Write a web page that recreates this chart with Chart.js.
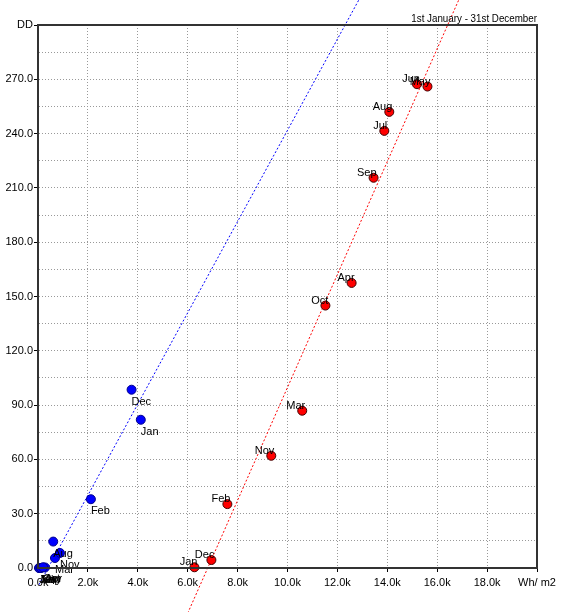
<!DOCTYPE html>
<html>
<head>
<meta charset="utf-8">
<script src="https://cdn.jsdelivr.net/npm/chart.js@4/dist/chart.umd.min.js"></script>
<style>
html,body{margin:0;padding:0;background:#fff;}
#c{display:block;}
</style>
</head>
<body>
<canvas id="c" width="566" height="612"></canvas>
<script>
const months = ['Jan','Feb','Mar','Apr','May','Jun','Jul','Aug','Sep','Oct','Nov','Dec'];
// red series (Wh/m2, DD)
const redX = [6270, 7590, 10590, 12570, 15610, 15190, 13880, 14080, 13450, 11520, 9350, 6950];
const redY = [0.4, 35.3, 86.9, 157.5, 266.0, 267.3, 241.5, 252.0, 215.6, 145.0, 62.0, 4.4];
// blue series (Wh/m2, DD)
const blueX = [4120, 2120, 680, 280, 100, 40, 60, 610, 120, 200, 880, 3750];
const blueY = [81.9, 38.0, 5.5, 0.3, 0, 0, 0, 14.6, 0, 0.4, 8.3, 98.5];
// trend lines (end points)
const redTrendX = [6000, 16900];
const redTrendY = [-25, 315];
const blueTrendX = [40, 12900];
const blueTrendY = [-9.2, 314.9];
// axis labels
const yTopLabel = 'DD';
const xEndLabel = 'Wh/ m2';
const titleText = '1st January - 31st December';

const FONT = '"Liberation Sans", Arial, sans-serif';
const FSIZE = 11;

const toPts = (xs, ys) => xs.map((x, i) => ({x: x, y: ys[i]}));

const framePlugin = {
  id: 'frame',
  afterDraw(chart) {
    const a = chart.chartArea, ctx = chart.ctx;
    ctx.save();
    ctx.strokeStyle = '#333';
    ctx.lineWidth = 2;
    ctx.strokeRect(a.left, a.top, a.right - a.left, a.bottom - a.top);
    ctx.fillStyle = '#000';
    ctx.font = FSIZE + 'px ' + FONT;
    ctx.textAlign = 'right';
    ctx.textBaseline = 'alphabetic';
    ctx.translate(a.right, 22);
    ctx.scale(0.89, 1);
    ctx.fillText(titleText, 0, 0);
    ctx.restore();
  }
};

const labelPlugin = {
  id: 'ptlabels',
  afterDatasetsDraw(chart) {
    const ctx = chart.ctx;
    ctx.save();
    ctx.font = FSIZE + 'px ' + FONT;
    ctx.fillStyle = '#000';
    chart.data.datasets.forEach((ds, di) => {
      if (!ds.monthLabels) return;
      const meta = chart.getDatasetMeta(di);
      meta.data.forEach((el, i) => {
        const t = ds.monthLabels[i];
        if (ds.labelSide === 'left') {
          ctx.textAlign = 'right';
          ctx.textBaseline = 'alphabetic';
          ctx.fillText(t, el.x + 3, el.y - 2);
        } else {
          ctx.textAlign = 'left';
          ctx.textBaseline = 'alphabetic';
          ctx.fillText(t, el.x, el.y + 15);
        }
      });
    });
    ctx.restore();
  }
};

new Chart(document.getElementById('c'), {
  type: 'scatter',
  data: {
    datasets: [
      {
        type: 'line', data: toPts(blueTrendX, blueTrendY), borderColor: '#0000ff',
        borderWidth: 1, borderDash: [2, 2], pointRadius: 0, clip: false, fill: false, order: 3
      },
      {
        type: 'line', data: toPts(redTrendX, redTrendY), borderColor: '#ff0000',
        borderWidth: 1, borderDash: [2, 2], pointRadius: 0, clip: false, fill: false, order: 3
      },
      {
        data: toPts(blueX, blueY), backgroundColor: '#0000ff', borderColor: '#00008b',
        borderWidth: 1, pointRadius: 4.5, clip: false, monthLabels: months, labelSide: 'right', order: 1
      },
      {
        data: toPts(redX, redY), backgroundColor: '#ff0000', borderColor: '#400000',
        borderWidth: 1, pointRadius: 4.5, clip: false, monthLabels: months, labelSide: 'left', order: 1
      }
    ]
  },
  options: {
    responsive: false,
    animation: false,
    devicePixelRatio: 1,
    layout: {padding: {top: 25, right: 29, left: 0, bottom: 0}},
    plugins: {legend: {display: false}, tooltip: {enabled: false}},
    scales: {
      x: {
        type: 'linear', min: 0, max: 20000,
        afterFit(s) { s.height = 44; },
        ticks: {
          stepSize: 2000, autoSkip: false, maxRotation: 0, padding: 4,
          color: '#000', font: {family: FONT, size: FSIZE},
          callback: v => v === 20000 ? xEndLabel : (v / 1000).toFixed(1) + 'k'
        },
        grid: {color: '#999', lineWidth: 1, tickLength: 4, tickColor: '#000'},
        border: {display: true, color: '#333', width: 2, dash: [1, 2]}
      },
      y: {
        type: 'linear', min: 0, max: 300,
        afterFit(s) { s.width = 38; },
        ticks: {
          stepSize: 15, autoSkip: false, padding: 1,
          color: '#000', font: {family: FONT, size: FSIZE},
          callback: v => v === 300 ? yTopLabel : (v % 30 === 0 ? v.toFixed(1) : '')
        },
        grid: {
          color: '#999', lineWidth: 1, tickLength: 4,
          tickColor: c => (c.tick && c.tick.value % 30 === 0) ? '#000' : 'rgba(0,0,0,0)'
        },
        border: {display: true, color: '#333', width: 2, dash: [1, 2]}
      }
    }
  },
  plugins: [framePlugin, labelPlugin]
});
</script>
</body>
</html>
